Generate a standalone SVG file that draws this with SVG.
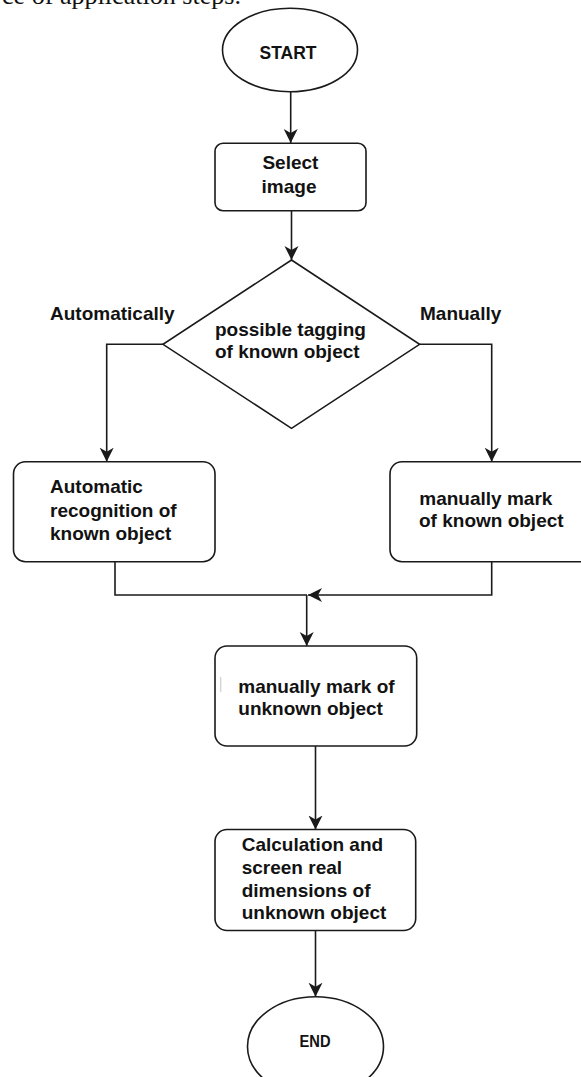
<svg xmlns="http://www.w3.org/2000/svg" width="581" height="1077" viewBox="0 0 581 1077">
  <style>
    .shape { fill: #ffffff; stroke: #1a1a1a; stroke-width: 1.6; }
    .edge { fill: none; stroke: #1a1a1a; stroke-width: 1.6; }
    .lbl { font-family: "Liberation Sans", Arial, sans-serif; font-weight: bold; font-size: 19px; fill: #121212; }
    .term { font-family: "Liberation Sans", Arial, sans-serif; font-weight: bold; font-size: 18.5px; fill: #121212; text-anchor: middle; }
    .caption { font-family: "Liberation Serif", "Times New Roman", serif; font-size: 25px; fill: #111111; }
  </style>
  <defs>
    <marker id="arrow" markerUnits="userSpaceOnUse" markerWidth="15" markerHeight="15" refX="14" refY="7" orient="auto">
      <path d="M14,7 L0,0 L4,7 L0,14 Z" fill="#1a1a1a"/>
    </marker>
  </defs>

  <rect width="581" height="1077" fill="#ffffff"/>

  <!-- running text of the page above the chart -->
  <text class="caption" x="2" y="3.5" textLength="239" lengthAdjust="spacingAndGlyphs">ce of application steps.</text>

  <g id="connectors">
    <path class="edge" d="M290.7,92 V143" marker-end="url(#arrow)"/>
    <path class="edge" d="M291.5,211 V260" marker-end="url(#arrow)"/>
    <path class="edge" d="M163,344.3 H106.7 V461.7" marker-end="url(#arrow)"/>
    <path class="edge" d="M419.6,344.3 H491.7 V461.7" marker-end="url(#arrow)"/>
    <path class="edge" d="M115,562 V595 H307"/>
    <path class="edge" d="M491.7,562 V595 H308" marker-end="url(#arrow)"/>
    <path class="edge" d="M306.7,595 V646" marker-end="url(#arrow)"/>
    <path class="edge" d="M315.5,746 V829.5" marker-end="url(#arrow)"/>
    <path class="edge" d="M315.5,930.5 V996.7" marker-end="url(#arrow)"/>
  </g>

  <g id="start">
    <ellipse class="shape" cx="290" cy="50" rx="67.5" ry="41.7"/>
    <text class="term" x="288" y="59" textLength="57" lengthAdjust="spacingAndGlyphs">START</text>
  </g>

  <g id="select-image">
    <rect class="shape" x="215" y="143.3" width="151" height="67.4" rx="8"/>
    <text class="lbl" text-anchor="middle" x="290.4" y="169.3">Select</text>
    <text class="lbl" text-anchor="middle" x="289" y="192.7">image</text>
  </g>

  <g id="tagging-decision">
    <polygon class="shape" points="291.5,260 419.6,344.3 291.5,428.3 163,344.3"/>
    <text class="lbl" x="215" y="336">possible tagging</text>
    <text class="lbl" x="215" y="358.3">of known object</text>
  </g>

  <g id="label-automatically">
    <text class="lbl" x="50" y="320">Automatically</text>
  </g>
  <g id="label-manually">
    <text class="lbl" x="420" y="320">Manually</text>
  </g>

  <g id="automatic-recognition">
    <rect class="shape" x="13.5" y="461.7" width="201.5" height="100" rx="12"/>
    <text class="lbl" x="50" y="493.3">Automatic</text>
    <text class="lbl" x="50" y="516.7">recognition of</text>
    <text class="lbl" x="50" y="540">known object</text>
  </g>

  <g id="manual-known">
    <rect class="shape" x="390" y="461.7" width="202" height="100" rx="12"/>
    <text class="lbl" x="419.3" y="505">manually mark</text>
    <text class="lbl" x="419" y="527.3">of known object</text>
  </g>

  <g id="manual-unknown">
    <rect class="shape" x="215" y="646" width="201.7" height="100" rx="12"/>
    <line x1="220.7" y1="677" x2="220.7" y2="692" stroke="#cfcfcf" stroke-width="1.2"/>
    <text class="lbl" x="238.3" y="692.5">manually mark of</text>
    <text class="lbl" x="238.3" y="714.5">unknown object</text>
  </g>

  <g id="calculation">
    <rect class="shape" x="215" y="829.5" width="200.7" height="101" rx="12"/>
    <text class="lbl" x="241.7" y="851">Calculation and</text>
    <text class="lbl" x="241.7" y="874">screen real</text>
    <text class="lbl" x="241.7" y="896.7">dimensions of</text>
    <text class="lbl" x="241.7" y="919.3">unknown object</text>
  </g>

  <g id="end">
    <ellipse class="shape" cx="315.5" cy="1046.5" rx="68" ry="49.8"/>
    <text class="term" x="315" y="1047.3" textLength="31" lengthAdjust="spacingAndGlyphs" style="font-size:17px">END</text>
  </g>
</svg>
